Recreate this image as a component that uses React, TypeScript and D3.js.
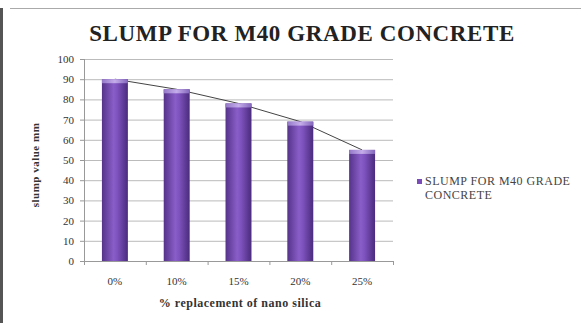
import React from "react";
import * as d3 from "d3";

const categories = ["0%", "10%", "15%", "20%", "25%"];
const slumpValues = [90, 85, 78, 69, 55];
const yTicks = [0, 10, 20, 30, 40, 50, 60, 70, 80, 90, 100];
const seriesName = ["SLUMP FOR M40 GRADE", "CONCRETE"];

const W = 581;
const H = 323;
const plot = { left: 84, right: 393, top: 59, bottom: 261 };

export default function App() {
  const x = d3
    .scaleBand<string>()
    .domain(categories)
    .range([plot.left, plot.right])
    .paddingInner(0.58)
    .paddingOuter(0.29);
  const y = d3.scaleLinear().domain([0, 100]).range([plot.bottom, plot.top]);
  const bw = x.bandwidth();
  const line = d3
    .line<number>()
    .x((_, i) => (x(categories[i]) as number) + bw / 2)
    .y((d) => y(d));
  const font = "'Liberation Serif', 'Times New Roman', serif";
  const boundaries = d3
    .range(categories.length + 1)
    .map((i) => plot.left + i * ((plot.right - plot.left) / categories.length));

  return (
    <svg width={W} height={H} style={{ position: "absolute", left: 0, top: 0, background: "#fff" }} fontFamily={font}>
      <defs>
        <linearGradient id="barGrad" x1="0" x2="1" y1="0" y2="0">
          <stop offset="0" stopColor="#55338a" />
          <stop offset="0.45" stopColor="#8a5ec8" />
          <stop offset="0.6" stopColor="#7d52bc" />
          <stop offset="1" stopColor="#4a2b7c" />
        </linearGradient>
        <linearGradient id="capGrad" x1="0" x2="1" y1="0" y2="0">
          <stop offset="0" stopColor="#9478c8" />
          <stop offset="0.5" stopColor="#c4adea" />
          <stop offset="1" stopColor="#8466bc" />
        </linearGradient>
      </defs>
      <rect x={0} y={0} width={W} height={H} fill="#fff" />
      {/* frame */}
      <rect x={0} y={8} width={3} height={H - 8} fill="#555" />
      <line x1={10} x2={W} y1={8.5} y2={8.5} stroke="#aaa" />
      {/* title */}
      <text x={302} y={41} textAnchor="middle" fontSize={23} fontWeight="bold" letterSpacing={0.6} fill="#222">
        SLUMP FOR M40 GRADE  CONCRETE
      </text>
      {/* gridlines */}
      {yTicks.map((t) => (
        <line key={t} x1={plot.left} x2={plot.right} y1={y(t) + 0.5} y2={y(t) + 0.5} stroke="#bbb" strokeWidth={1} />
      ))}
      {/* axes */}
      <line x1={plot.left + 0.5} x2={plot.left + 0.5} y1={plot.top} y2={plot.bottom} stroke="#999" />
      <line x1={plot.left} x2={plot.right} y1={plot.bottom + 0.5} y2={plot.bottom + 0.5} stroke="#999" />
      {yTicks.map((t) => (
        <line key={"tk" + t} x1={plot.left - 4} x2={plot.left} y1={y(t) + 0.5} y2={y(t) + 0.5} stroke="#999" />
      ))}
      {boundaries.map((b, i) => (
        <line key={"xb" + i} x1={b + 0.5} x2={b + 0.5} y1={plot.bottom} y2={plot.bottom + 4} stroke="#999" />
      ))}
      {yTicks.map((t) => (
        <text key={"yl" + t} x={plot.left - 10} y={y(t) + 4} textAnchor="end" fontSize={11} fill="#333">
          {t}
        </text>
      ))}
      {/* line behind bars */}
      <path d={line(slumpValues) || ""} fill="none" stroke="#444" strokeWidth={1} />
      {/* bars */}
      {slumpValues.map((v, i) => {
        const bx = x(categories[i]) as number;
        const by = y(v);
        return (
          <g key={categories[i]}>
            <rect x={bx} y={by} width={bw} height={plot.bottom - by} fill="url(#barGrad)" />
            <rect x={bx} y={by} width={bw} height={4} fill="url(#capGrad)" />
          </g>
        );
      })}
      {categories.map((c) => (
        <text key={"xl" + c} x={(x(c) as number) + bw / 2} y={285} textAnchor="middle" fontSize={11} fill="#333">
          {c}
        </text>
      ))}
      {/* axis titles */}
      <text x={240} y={307} textAnchor="middle" fontSize={12} fontWeight="bold" letterSpacing={0.5} fill="#333">
        % replacement of nano silica
      </text>
      <text
        transform={`translate(39, ${(plot.top + plot.bottom) / 2 + 5}) rotate(-90)`}
        textAnchor="middle"
        fontSize={11}
        fontWeight="bold"
        letterSpacing={0.5}
        fill="#333"
      >
        slump value mm
      </text>
      {/* legend */}
      <rect x={417} y={179} width={5} height={5} fill="#7a4cb8" />
      <text x={425} y={185} fontSize={12} letterSpacing={0.5} fill="#444">
        {seriesName[0]}
      </text>
      <text x={425} y={199} fontSize={12} letterSpacing={0.5} fill="#444">
        {seriesName[1]}
      </text>
    </svg>
  );
}
